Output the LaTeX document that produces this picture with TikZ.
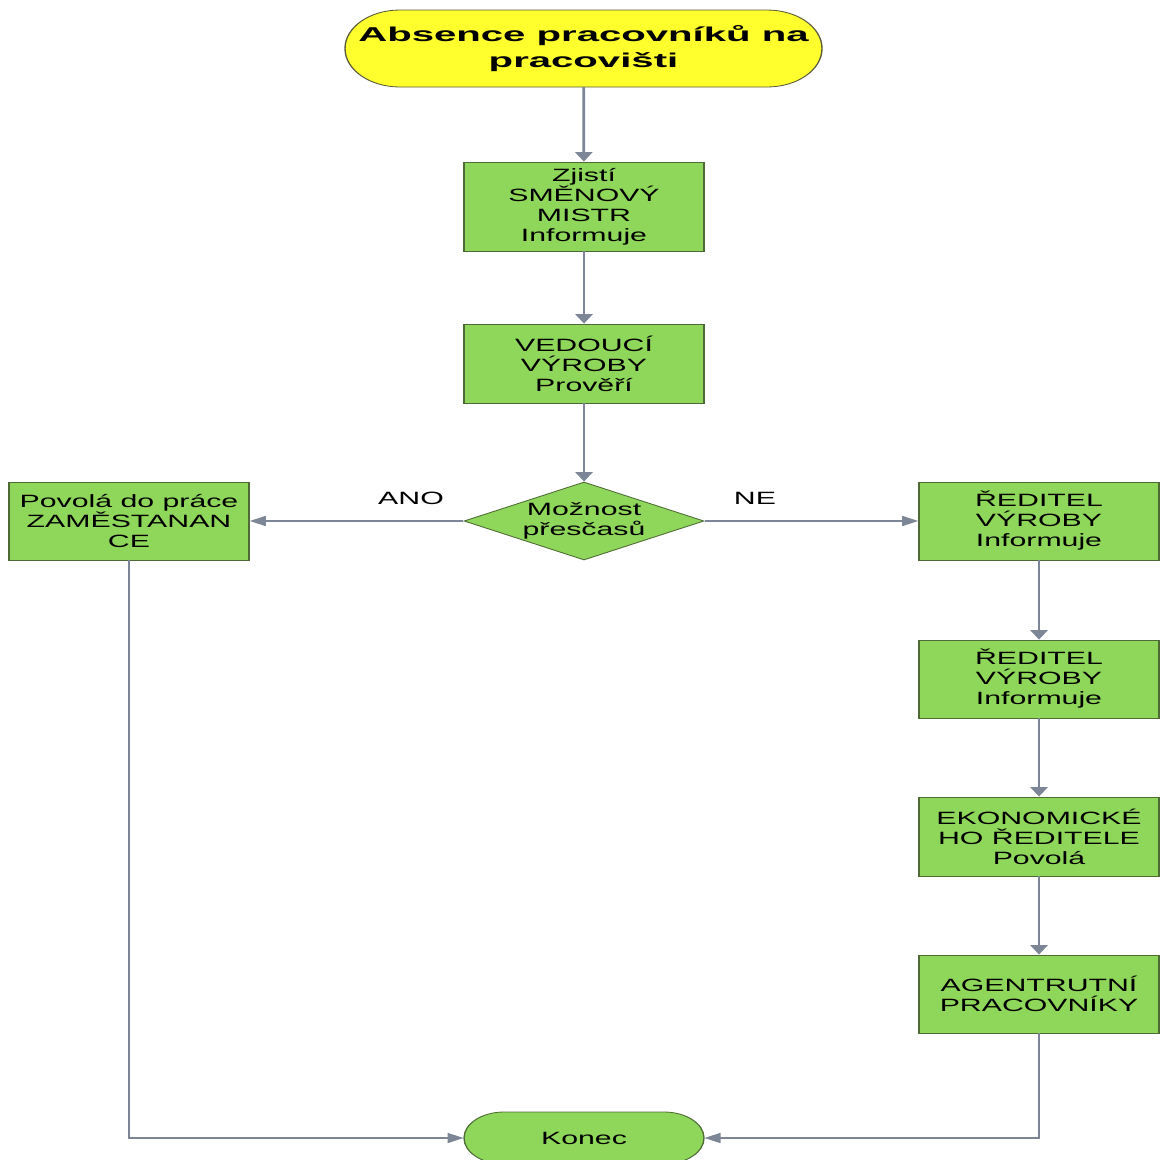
\documentclass[tikz,border=0pt]{standalone}
\usepackage{fontspec}
\setmainfont{Liberation Sans}
\newfontfamily\bodyfont{Liberation Sans}
\newfontfamily\titlefont[FakeStretch=1.18]{Liberation Sans Bold}
\usetikzlibrary{shapes.geometric,arrows.meta}
\definecolor{boxgreen}{HTML}{8FD75A}
\definecolor{boxline}{HTML}{4E6B35}
\definecolor{startyellow}{HTML}{FFFF2E}
\definecolor{startline}{HTML}{5A5A3A}
\definecolor{flow}{HTML}{7C8696}
\tikzset{
  stepbox/.style={draw=boxline, fill=boxgreen, line width=0.8pt, rectangle,
    minimum width=141.2pt, inner sep=0pt, align=center,
    font=\bodyfont\fontsize{17.8}{20}\selectfont},
  decision/.style={draw=boxline, fill=boxgreen, line width=0.8pt, diamond,
    minimum width=141.2pt, minimum height=78pt, inner sep=0pt, aspect=1.8,
    align=center, font=\bodyfont\fontsize{17.8}{20}\selectfont},
  label/.style={font=\bodyfont\fontsize{17.8}{20}\selectfont},
  flowline/.style={draw=flow, line width=1.6pt,
    -{Triangle[length=9.5pt,width=10pt]}},
}
\begin{document}
\begin{tikzpicture}[x=1pt,y=-1pt]
\useasboundingbox (0,0) rectangle (1160,1160);
\clip (0,0) rectangle (1160,1160);
% the whole chart is laid out narrow and widened by 1.7 horizontally
\begin{scope}[transform canvas={xscale=1.7}, x=0.588235pt, y=-1pt]

% start terminator (y axis points down, so arcs run from -90 to 90 on the right)
\draw[draw=startline, fill=startyellow, line width=0.8pt]
  (400,10) -- (767,10) arc[start angle=-90, end angle=90, x radius=55, y radius=38.5]
  -- (400,87) arc[start angle=90, end angle=270, x radius=55, y radius=38.5] -- cycle;
\node[minimum width=280.6pt, minimum height=77pt, inner sep=0pt, align=center,
  font=\titlefont\fontsize{20}{26}\selectfont] (start) at (583.5,48.5)
  {Absence pracovníků na\\pracovišti};

% end terminator
\draw[draw=boxline, fill=boxgreen, line width=0.8pt]
  (504,1112) -- (664,1112) arc[start angle=-90, end angle=90, x radius=40, y radius=26]
  -- (504,1164) arc[start angle=90, end angle=270, x radius=40, y radius=26] -- cycle;
\node[minimum width=141.2pt, minimum height=52pt, inner sep=0pt,
  font=\bodyfont\fontsize{17.8}{20}\selectfont] (konec) at (584,1138) {Konec};

% process steps
\node[stepbox, minimum height=89pt] (zjisti) at (584,206.5)
  {Zjistí\\SMĚNOVÝ\\MISTR\\Informuje};
\node[stepbox, minimum height=79pt] (vedouci) at (584,363.5)
  {VEDOUCÍ\\VÝROBY\\Prověří};
\node[decision] (moznost) at (584,521) {Možnost\\přesčasů};
\node[stepbox, minimum height=78pt] (povola) at (129,521)
  {Povolá do práce\\ZAMĚSTANAN\\CE};
\node[stepbox, minimum height=78pt] (reditel1) at (1039,521)
  {ŘEDITEL\\VÝROBY\\Informuje};
\node[stepbox, minimum height=78pt] (reditel2) at (1039,679)
  {ŘEDITEL\\VÝROBY\\Informuje};
\node[stepbox, minimum height=79pt] (ekonom) at (1039,836.5)
  {EKONOMICKÉ\\HO ŘEDITELE\\Povolá};
\node[stepbox, minimum height=78pt] (agent) at (1039,994)
  {AGENTRUTNÍ\\PRACOVNÍKY};

% branch labels
\node[label] (ano) at (411,498) {ANO};
\node[label] (ne) at (755,498) {NE};

% connectors
\draw[flowline] (start) -- (zjisti);
\draw[flowline] (zjisti) -- (vedouci);
\draw[flowline] (vedouci) -- (moznost);
\draw[flowline] (moznost.west) -- (povola.east);
\draw[flowline] (moznost.east) -- (reditel1.west);
\draw[flowline] (reditel1) -- (reditel2);
\draw[flowline] (reditel2) -- (ekonom);
\draw[flowline] (ekonom) -- (agent);
\draw[flowline] (povola.south) |- (konec.west);
\draw[flowline] (agent.south) |- (konec.east);
\end{scope}
\end{tikzpicture}
\end{document}
